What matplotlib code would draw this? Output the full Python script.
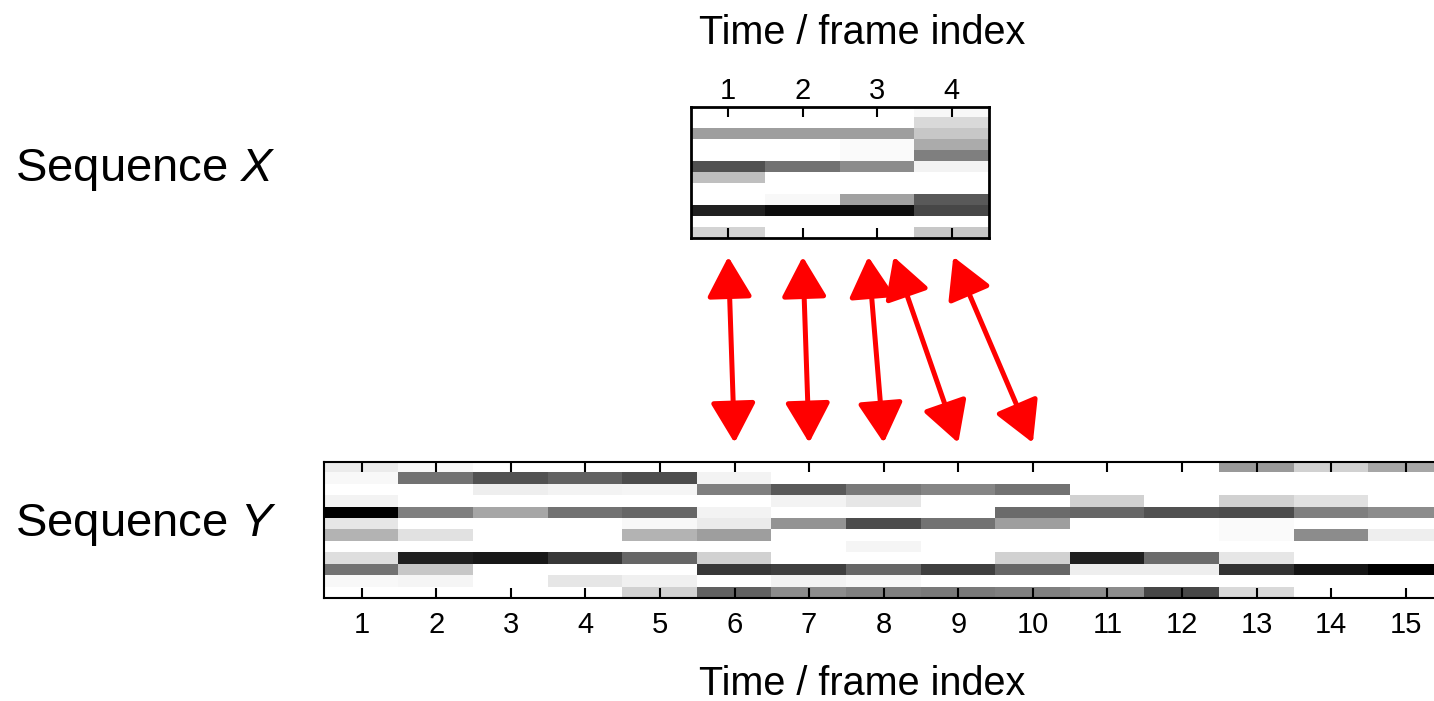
import numpy as np
import matplotlib
matplotlib.use('Agg')
import matplotlib.pyplot as plt
from matplotlib.patches import ConnectionPatch
from matplotlib import transforms

plt.rcParams['font.family'] = ['Liberation Sans', 'DejaVu Sans']
plt.rcParams['mathtext.fontset'] = 'custom'
plt.rcParams['mathtext.rm'] = 'Liberation Sans'
plt.rcParams['mathtext.it'] = 'Liberation Sans:italic'

# feature darkness (0 = white, 1 = black), rows = feature dims, cols = frames
seq_x = [
    [0.00, 0.00, 0.00, 0.03],
    [0.00, 0.00, 0.00, 0.15],
    [0.38, 0.38, 0.38, 0.22],
    [0.00, 0.00, 0.02, 0.33],
    [0.00, 0.00, 0.02, 0.50],
    [0.68, 0.55, 0.45, 0.05],
    [0.25, 0.00, 0.00, 0.00],
    [0.00, 0.00, 0.00, 0.00],
    [0.00, 0.03, 0.37, 0.65],
    [0.87, 0.95, 0.95, 0.72],
    [0.00, 0.00, 0.00, 0.00],
    [0.17, 0.00, 0.00, 0.22],
]

seq_y = [
    [0.08, 0.03, 0.00, 0.00, 0.00, 0.00, 0.00, 0.00, 0.00, 0.00, 0.00, 0.00, 0.40, 0.18, 0.35],
    [0.03, 0.55, 0.68, 0.62, 0.70, 0.05, 0.00, 0.00, 0.00, 0.00, 0.00, 0.00, 0.00, 0.00, 0.00],
    [0.00, 0.00, 0.07, 0.05, 0.04, 0.50, 0.65, 0.52, 0.48, 0.55, 0.00, 0.00, 0.00, 0.00, 0.00],
    [0.05, 0.00, 0.00, 0.00, 0.00, 0.00, 0.05, 0.10, 0.00, 0.00, 0.18, 0.00, 0.18, 0.12, 0.00],
    [1.00, 0.50, 0.35, 0.55, 0.60, 0.05, 0.00, 0.00, 0.00, 0.58, 0.60, 0.68, 0.70, 0.50, 0.45],
    [0.10, 0.00, 0.00, 0.00, 0.03, 0.08, 0.42, 0.70, 0.55, 0.38, 0.00, 0.00, 0.02, 0.00, 0.00],
    [0.30, 0.12, 0.00, 0.00, 0.30, 0.38, 0.00, 0.00, 0.00, 0.00, 0.00, 0.00, 0.02, 0.45, 0.07],
    [0.00, 0.00, 0.00, 0.00, 0.00, 0.00, 0.00, 0.04, 0.00, 0.00, 0.00, 0.00, 0.00, 0.00, 0.00],
    [0.13, 0.87, 0.90, 0.78, 0.60, 0.18, 0.00, 0.00, 0.00, 0.18, 0.87, 0.58, 0.10, 0.00, 0.00],
    [0.55, 0.22, 0.00, 0.00, 0.00, 0.78, 0.75, 0.60, 0.75, 0.60, 0.07, 0.07, 0.80, 0.92, 1.00],
    [0.03, 0.04, 0.00, 0.10, 0.06, 0.00, 0.05, 0.03, 0.00, 0.00, 0.00, 0.00, 0.00, 0.00, 0.00],
    [0.00, 0.00, 0.00, 0.00, 0.18, 0.62, 0.45, 0.50, 0.52, 0.50, 0.45, 0.72, 0.15, 0.00, 0.00],
]

# warping path: frame of X <-> frame of Y
path_x = [1, 2, 3, 3, 4]
path_y = [6, 7, 8, 9, 10]
shift_x = [0, 0, -0.12, 0.22, 0.02]   # small spread so arrows from frame 3 don't overlap

fig = plt.figure(figsize=(14.34, 7.01), dpi=100)
ax_x = fig.add_axes([0.4819, 0.6601, 0.2078, 0.1877])
ax_y = fig.add_axes([0.2262, 0.1465, 0.7801, 0.1950])

X = np.array(seq_x)
Y = np.array(seq_y)
ax_x.imshow(X, cmap='gray_r', vmin=0, vmax=1, aspect='auto', interpolation='nearest',
            extent=(0.5, X.shape[1] + 0.5, X.shape[0] - 0.5, -0.5))
ax_y.imshow(Y, cmap='gray_r', vmin=0, vmax=1, aspect='auto', interpolation='nearest',
            extent=(0.5, Y.shape[1] + 0.5, Y.shape[0] - 0.5, -0.5))

for ax, n, lw in [(ax_x, X.shape[1], 2.0), (ax_y, Y.shape[1], 1.5)]:
    ax.set_xticks(np.arange(1, n + 1))
    ax.set_yticks([])
    for s in ax.spines.values():
        s.set_linewidth(lw)

ax_x.tick_params(axis='x', direction='in', top=True, bottom=True, labeltop=True,
                 labelbottom=False, length=7, width=1.5, labelsize=21, pad=1)
ax_y.tick_params(axis='x', direction='in', top=True, bottom=True, length=7, width=1.5,
                 labelsize=21, pad=9.5)

fig.text(0.6015, 0.953, 'Time / frame index', fontsize=28.5, ha='center', va='center')
fig.text(0.6015, 0.024, 'Time / frame index', fontsize=28.5, ha='center', va='center')
fig.text(0.0105, 0.757, 'Sequence $X$', fontsize=34, ha='left', va='center')
fig.text(0.0105, 0.251, 'Sequence $Y$', fontsize=34, ha='left', va='center')

tr_x = transforms.blended_transform_factory(ax_x.transData, ax_x.transAxes)
tr_y = transforms.blended_transform_factory(ax_y.transData, ax_y.transAxes)
for fx, fy, dx in zip(path_x, path_y, shift_x):
    con = ConnectionPatch(xyA=(fx + dx, -0.14), coordsA=tr_x,
                          xyB=(fy, 1.137), coordsB=tr_y,
                          arrowstyle='<|-|>,head_length=0.5,head_width=0.28',
                          mutation_scale=50, color='#ff0000', lw=3.6,
                          shrinkA=0, shrinkB=0)
    fig.add_artist(con)

plt.savefig('out.png', dpi=100)
